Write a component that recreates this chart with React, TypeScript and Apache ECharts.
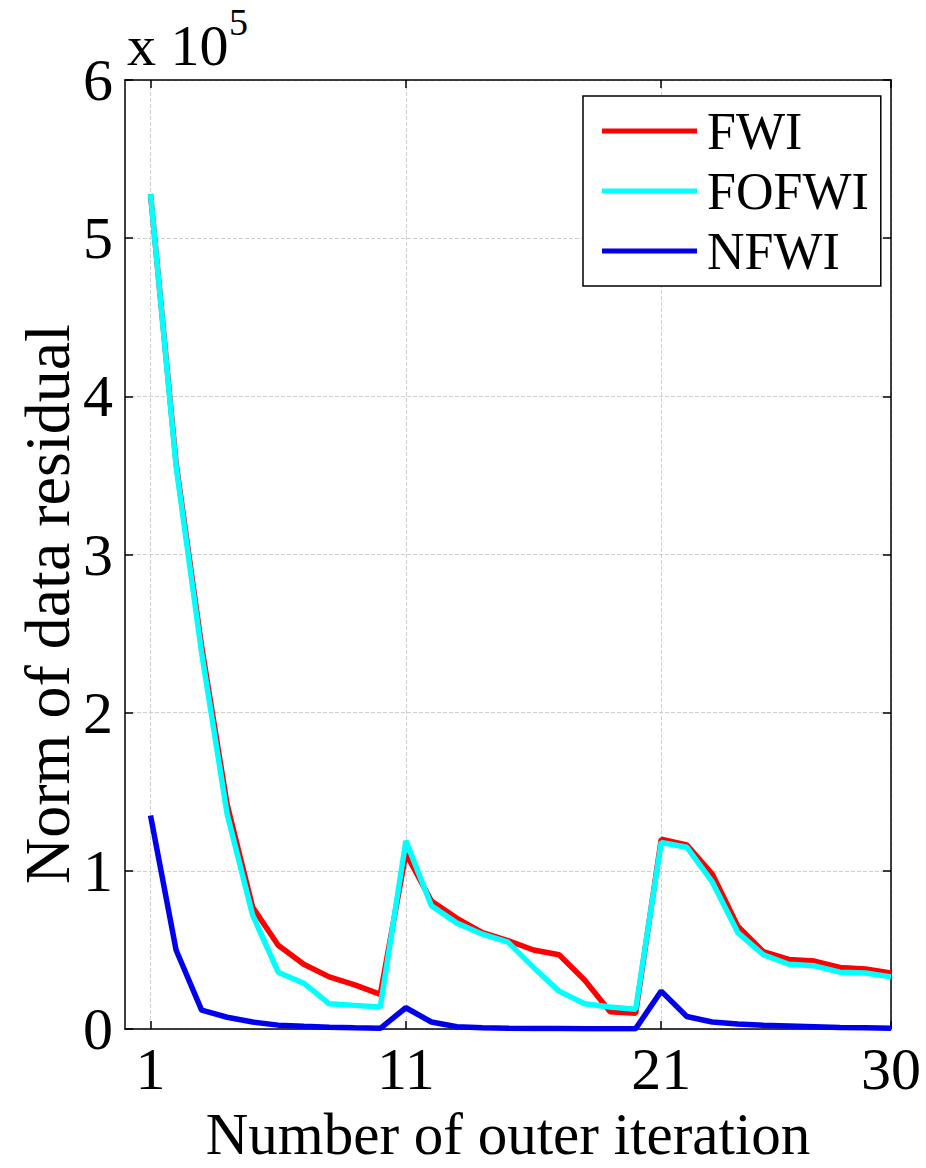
import React, { useEffect, useRef } from "react";
import * as echarts from "echarts";

const iterations = [1, 2, 3, 4, 5, 6, 7, 8, 9, 10, 11, 12, 13, 14, 15, 16, 17, 18, 19, 20, 21, 22, 23, 24, 25, 26, 27, 28, 29, 30];
// values in units of 10^5
const fwi = [5.28, 3.58, 2.42, 1.42, 0.77, 0.53, 0.41, 0.33, 0.28, 0.22, 1.11, 0.81, 0.7, 0.61, 0.56, 0.5, 0.47, 0.31, 0.11, 0.1, 1.2, 1.165, 0.98, 0.65, 0.49, 0.44, 0.43, 0.39, 0.38, 0.355];
const fofwi = [5.28, 3.56, 2.38, 1.36, 0.72, 0.36, 0.29, 0.16, 0.15, 0.14, 1.19, 0.78, 0.67, 0.6, 0.55, 0.39, 0.24, 0.16, 0.14, 0.125, 1.18, 1.15, 0.93, 0.61, 0.47, 0.41, 0.4, 0.36, 0.355, 0.33];
const nfwi = [1.35, 0.5, 0.12, 0.075, 0.045, 0.025, 0.018, 0.012, 0.008, 0.005, 0.135, 0.045, 0.015, 0.008, 0.005, 0.004, 0.004, 0.003, 0.003, 0.003, 0.24, 0.08, 0.045, 0.032, 0.025, 0.02, 0.015, 0.01, 0.008, 0.006];
const xTicks = [1, 11, 21, 30];
const seriesNames = ["FWI", "FOFWI", "NFWI"];
const seriesColors = ["#ff0000", "#00ffff", "#0000ee"];

const FONT = "Liberation Serif";

export default function App() {
  const ref = useRef<HTMLDivElement>(null);
  useEffect(() => {
    if (!ref.current) return;
    const chart = echarts.init(ref.current, null, { renderer: "svg" });
    const datasets = [fwi, fofwi, nfwi];
    const axisLineStyle = { color: "#000", width: 1.5 };
    const gridLine = { show: true, lineStyle: { type: "dashed", color: "#cfcfcf", width: 1 } };
    chart.setOption({
      animation: false,
      backgroundColor: "#fff",
      textStyle: { fontFamily: FONT },
      grid: { left: 125, right: 35, top: 80, bottom: 125, containLabel: false },
      legend: {
        orient: "vertical",
        left: 583,
        top: 96,
        data: seriesNames,
        icon: "rect",
        itemWidth: 95,
        itemHeight: 5,
        itemGap: 8,
        padding: [9, 12, 9, 19],
        borderColor: "#000",
        borderWidth: 1.5,
        backgroundColor: "#fff",
        textStyle: { fontFamily: FONT, fontSize: 52, color: "#000", lineHeight: 50, padding: [0, 0, 0, 5] },
      },
      xAxis: [
        {
          type: "value",
          min: 0,
          max: 30,
          position: "bottom",
          axisLine: { show: true, onZero: false, lineStyle: axisLineStyle },
          axisTick: { show: true, inside: true, length: 8, customValues: xTicks, lineStyle: axisLineStyle },
          axisLabel: { customValues: xTicks, fontFamily: FONT, fontSize: 60, color: "#000", margin: 10 },
          splitLine: gridLine,
          name: "Number of outer iteration",
          nameLocation: "middle",
          nameGap: 60,
          nameTextStyle: { fontFamily: FONT, fontSize: 59, color: "#000", verticalAlign: "top" },
        },
        {
          type: "value",
          min: 0,
          max: 30,
          position: "top",
          axisLine: { show: true, onZero: false, lineStyle: axisLineStyle },
          axisTick: { show: true, inside: true, length: 8, customValues: xTicks, lineStyle: axisLineStyle },
          axisLabel: { show: false },
          splitLine: { show: false },
        },
      ],
      yAxis: [
        {
          type: "value",
          min: 0,
          max: 6,
          interval: 1,
          position: "left",
          axisLine: { show: true, onZero: false, lineStyle: axisLineStyle },
          axisTick: { show: true, inside: true, length: 8, lineStyle: axisLineStyle },
          axisLabel: { fontFamily: FONT, fontSize: 60, color: "#000", margin: 12 },
          splitLine: gridLine,
        },
        {
          type: "value",
          min: 0,
          max: 6,
          interval: 1,
          position: "right",
          axisLine: { show: true, onZero: false, lineStyle: axisLineStyle },
          axisTick: { show: true, inside: true, length: 8, lineStyle: axisLineStyle },
          axisLabel: { show: false },
          splitLine: { show: false },
        },
      ],
      graphic: [
        {
          type: "text",
          x: 47,
          y: 604,
          rotation: Math.PI / 2,
          style: {
            text: "Norm of data residual",
            fontFamily: FONT,
            fontSize: 64,
            fill: "#000",
            align: "center",
            verticalAlign: "middle",
          },
        },
        {
          type: "text",
          left: 127,
          top: 16,
          style: {
            text: "x 10",
            fontFamily: FONT,
            fontSize: 58,
            fill: "#000",
          },
        },
        {
          type: "text",
          left: 229,
          top: 3,
          style: {
            text: "5",
            fontFamily: FONT,
            fontSize: 38,
            fill: "#000",
          },
        },
      ],
      series: datasets.map((vals, i) => ({
        name: seriesNames[i],
        type: "line",
        xAxisIndex: 0,
        yAxisIndex: 0,
        showSymbol: false,
        symbol: "none",
        color: seriesColors[i],
        lineStyle: { color: seriesColors[i], width: 5.5 },
        data: iterations.map((x, k) => [x, vals[k]]),
        z: 2 + i,
      })),
    });
    return () => chart.dispose();
  }, []);
  return (
    <div
      ref={ref}
      style={{ position: "absolute", left: 0, top: 0, width: 926, height: 1168, background: "#fff" }}
    />
  );
}
